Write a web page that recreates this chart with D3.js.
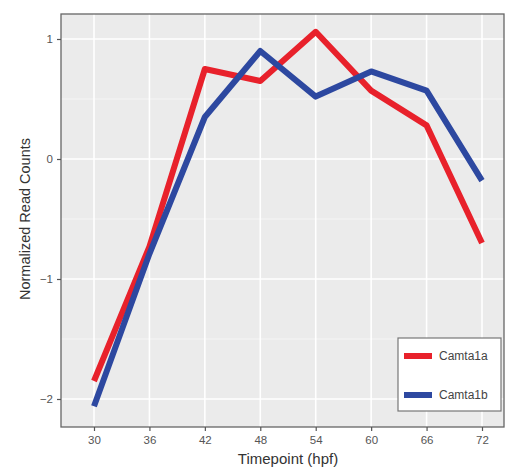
<!DOCTYPE html>
<html>
<head>
<meta charset="utf-8">
<script src="https://cdn.jsdelivr.net/npm/d3@7"></script>
<style>
  body { margin: 0; background: #fff; }
  svg { display: block; font-family: "Liberation Sans", Arial, sans-serif; }
</style>
</head>
<body>
<svg id="chart" width="506" height="473"></svg>
<script>
// Data
const timepoints = [30, 36, 42, 48, 54, 60, 66, 72];
const camta1a = [-1.85, -0.73, 0.75, 0.65, 1.06, 0.57, 0.28, -0.7];
const camta1b = [-2.06, -0.79, 0.35, 0.9, 0.52, 0.73, 0.57, -0.18];
const yTicks = [-2, -1, 0, 1];
const yMinor = [-1.5, -0.5, 0.5];
const seriesNames = ['Camta1a', 'Camta1b'];
const seriesColors = ['#E8212B', '#2D48A0'];

// Panel box
const panel = { left: 61, top: 14, right: 504, bottom: 427 };

const svg = d3.select('#chart');

const xScale = d3.scaleLinear()
    .domain([30, 72])
    .range([94, 482]);

const yScale = d3.scaleLinear()
    .domain([-2, 1])
    .range([399, 39]);

// background
svg.append('rect')
    .attr('x', panel.left)
    .attr('y', panel.top)
    .attr('width', panel.right - panel.left)
    .attr('height', panel.bottom - panel.top)
    .attr('fill', '#EBEBEB');

// minor grid
svg.append('g').selectAll('line')
    .data(yMinor)
    .enter()
    .append('line')
    .attr('x1', panel.left).attr('x2', panel.right)
    .attr('y1', d => yScale(d)).attr('y2', d => yScale(d))
    .attr('stroke', '#F5F5F5')
    .attr('stroke-width', 1);

// major grid
svg.append('g').selectAll('line')
    .data(yTicks)
    .enter()
    .append('line')
    .attr('x1', panel.left).attr('x2', panel.right)
    .attr('y1', d => yScale(d)).attr('y2', d => yScale(d))
    .attr('stroke', '#fff')
    .attr('stroke-width', 1.6);

svg.append('g').selectAll('line')
    .data(timepoints)
    .enter()
    .append('line')
    .attr('y1', panel.top).attr('y2', panel.bottom)
    .attr('x1', d => xScale(d)).attr('x2', d => xScale(d))
    .attr('stroke', '#fff')
    .attr('stroke-width', 1.6);

// panel border
svg.append('rect')
    .attr('x', panel.left)
    .attr('y', panel.top)
    .attr('width', panel.right - panel.left)
    .attr('height', panel.bottom - panel.top)
    .attr('fill', 'none')
    .attr('stroke', '#666')
    .attr('stroke-width', 1.3);

// lines
const line = d3.line()
    .x((d, i) => xScale(timepoints[i]))
    .y(d => yScale(d));

[camta1a, camta1b].forEach((values, i) => {
    svg.append('path')
        .datum(values)
        .attr('d', line)
        .attr('fill', 'none')
        .attr('stroke', seriesColors[i])
        .attr('stroke-width', 6)
        .attr('stroke-linejoin', 'round');
});

// axes
const xAxis = d3.axisBottom(xScale)
    .tickValues(timepoints)
    .tickSize(4)
    .tickPadding(5);

const yAxis = d3.axisLeft(yScale)
    .tickValues(yTicks)
    .tickSize(4)
    .tickPadding(4)
    .tickFormat(d3.format('d'));

const gx = svg.append('g')
    .attr('transform', `translate(0,${panel.bottom})`)
    .call(xAxis);

const gy = svg.append('g')
    .attr('transform', `translate(${panel.left},0)`)
    .call(yAxis);

[gx, gy].forEach(g => {
    g.select('.domain').remove();
    g.selectAll('.tick line').attr('stroke', '#555').attr('stroke-width', 1.2);
    g.selectAll('.tick text')
        .attr('fill', '#555')
        .style('font-size', '11.5px');
});

// axis titles
svg.append('text')
    .attr('x', xScale(51))
    .attr('y', 464)
    .attr('text-anchor', 'middle')
    .attr('fill', '#333')
    .style('font-size', '15px')
    .text('Timepoint (hpf)');

svg.append('text')
    .attr('transform', `translate(30,${yScale(-0.5)}) rotate(-90)`)
    .attr('text-anchor', 'middle')
    .attr('fill', '#333')
    .style('font-size', '14.5px')
    .text('Normalized Read Counts');

// legend
const legend = svg.append('g');
legend.append('rect')
    .attr('x', 398)
    .attr('y', 338)
    .attr('width', 103)
    .attr('height', 73)
    .attr('fill', '#fff')
    .attr('stroke', '#777')
    .attr('stroke-width', 1.2);

seriesNames.forEach((name, i) => {
    const ly = 356 + i * 39;
    legend.append('line')
        .attr('x1', 404).attr('x2', 432)
        .attr('y1', ly).attr('y2', ly)
        .attr('stroke', seriesColors[i])
        .attr('stroke-width', 6);
    legend.append('text')
        .attr('x', 439)
        .attr('y', ly + 4)
        .attr('fill', '#444')
        .style('font-size', '12px')
        .text(name);
});
</script>
</body>
</html>
